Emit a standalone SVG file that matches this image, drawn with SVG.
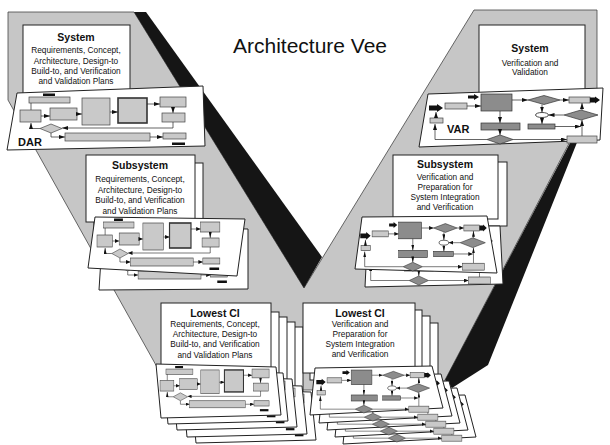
<svg xmlns="http://www.w3.org/2000/svg" xmlns:xlink="http://www.w3.org/1999/xlink" width="610" height="445" viewBox="0 0 610 445">
<style>
text{font-family:"Liberation Sans",Arial,sans-serif;fill:#111;text-anchor:middle}
.t{font-size:10.5px;font-weight:bold}
.b{font-size:8.3px}
.lbl{font-size:11px;font-weight:bold;text-anchor:start}
.box{fill:#fff;stroke:#222;stroke-width:1}
.card{fill:#fff;stroke:#222;stroke-width:1}
.lg{fill:#c9c9c9;stroke:#444;stroke-width:0.7}
.lg2{fill:#c9c9c9;stroke:#333;stroke-width:1.6}
.dk{fill:#8c8c8c;stroke:#333;stroke-width:0.7}
.wh{fill:#fff;stroke:#222;stroke-width:0.8}
.blk{fill:#111}
.ln{fill:none;stroke:#222;stroke-width:0.7}
.ar{fill:none;stroke:#222;stroke-width:0.7;marker-end:url(#ah)}
</style>
<defs>
<marker id="ah" viewBox="0 0 6 4" markerWidth="6" markerHeight="4" refX="6" refY="2" orient="auto" markerUnits="userSpaceOnUse">
<path d="M0 0L6 2L0 4Z" fill="#111"/>
</marker>
<g id="dar">
<rect x="43" y="93.5" width="12" height="2.5" class="blk"/>
<rect x="29" y="97" width="41" height="6" class="lg"/>
<path d="M31 103V110" class="ln"/>
<rect x="20" y="110" width="21" height="12" class="lg"/>
<path d="M41 116H50" class="ar"/>
<rect x="50" y="108" width="27" height="12" class="lg"/>
<path d="M77 114H82" class="ar"/>
<rect x="82" y="98" width="28" height="27" class="lg"/>
<path d="M110 112H118" class="ar"/>
<rect x="118" y="98" width="29" height="25" class="lg2"/>
<path d="M147 104H160" class="ar"/>
<rect x="160" y="97" width="26" height="10" class="lg"/>
<path d="M173 107V113" class="ar"/>
<rect x="162" y="113" width="23" height="9" class="lg"/>
<path d="M173 122V128H62" class="ar"/>
<path d="M40 128.5L51 124L62 128.5L51 133Z" class="lg"/>
<path d="M40 128.5H31V123" class="ar"/>
<path d="M51 133V137H65" class="ar"/>
<rect x="65" y="133" width="85" height="8" class="lg"/>
<path d="M150 137H163" class="ar"/>
<rect x="163" y="133" width="23" height="6" class="lg"/>
<rect x="172" y="142.5" width="13" height="2.5" class="blk"/>
</g>
<g id="var">
<path d="M429 105.5h8v-1.5l6 4-6 4v-1.5h-8z" class="blk"/>
<rect x="445" y="103" width="22" height="6" class="lg"/>
<path d="M467 106H481" class="ar"/>
<path d="M468 95.5h6v-1.5l5 3-5 3v-1.5h-6z" class="blk"/>
<rect x="481" y="94" width="31" height="17" class="dk"/>
<path d="M512 100H528" class="ar"/>
<path d="M528 100L544 95.5L560 100L544 104.5Z" class="dk"/>
<path d="M560 100H569" class="ar"/>
<rect x="569" y="97" width="21" height="6" class="lg"/>
<path d="M590 97.5h5v-1l5 3.5-5 3.5v-1h-5z" class="blk"/>
<path d="M542 104.5V112.5" class="ar"/>
<ellipse cx="542" cy="115" rx="6.5" ry="2.5" class="wh"/>
<path d="M564 115H548.5" class="ar"/>
<path d="M564 115L581 110L598 115L581 120Z" class="dk"/>
<path d="M582 110V103" class="ar"/>
<path d="M500 111V123" class="ar"/>
<rect x="481" y="123" width="39" height="7" class="dk"/>
<path d="M500 130V135" class="ar"/>
<path d="M542 117.5V124" class="ar"/>
<rect x="528" y="124" width="27" height="5" class="dk"/>
<path d="M555 126.5H581" class="ar"/>
<path d="M582 136V120" class="ar"/>
<path d="M487 139.5L500 135L513 139.5L500 144Z" class="dk"/>
<path d="M513 139.5H567" class="ar"/>
<rect x="567" y="136" width="30" height="7" class="lg"/>
<path d="M487 139.5H435V124" class="ar"/>
<rect x="430" y="118" width="13" height="5" class="lg"/>
<path d="M436 118V112" class="ar"/>
</g>
</defs>
<rect width="610" height="445" fill="#fff"/>
<g id="vee">
<path d="M8 12H134L304 288L474 10H597V90L445 380L440 390H175L157 367L8 100Z" fill="#c6c6c6" stroke="#444" stroke-width="0.8"/>
<path d="M134 12H146L322 257L304 288Z" fill="#151515"/>
<path d="M598 90L488 365L452 388L445 380Z" fill="#151515"/>
</g>
<text x="310" y="53" style="font-size:21px">Architecture Vee</text>
<g id="sys-left">
<rect x="23" y="25" width="107" height="70" class="box"/>
<text x="76" y="41" class="t">System</text>
<text x="76" y="53.3" class="b">Requirements, Concept,</text>
<text x="76" y="63.7" class="b">Architecture, Design-to</text>
<text x="76" y="74" class="b">Build-to, and Verification</text>
<text x="76" y="83.5" class="b">and Validation Plans</text>
<path d="M17 93L203 86L205 146L7 150Z" class="card"/>
<use xlink:href="#dar"/>
<text x="18" y="146" class="lbl">DAR</text>
</g>
<g id="sub-left">
<rect x="94" y="163" width="109" height="67" class="box"/>
<rect x="86" y="155" width="109" height="67" class="box"/>
<text x="140" y="169.3" class="t">Subsystem</text>
<text x="140" y="182" class="b">Requirements, Concept,</text>
<text x="140" y="192.5" class="b">Architecture, Design-to</text>
<text x="140" y="203" class="b">Build-to, and Verification</text>
<text x="140" y="213.5" class="b">and Validation Plans</text>
<path d="M103 227L248 229L248 289L99 290Z" class="card"/>
<use xlink:href="#dar" transform="matrix(0.74,0,0,1,90,138)"/>
<path d="M95 217L245 219L237 276L88 268Z" class="card"/>
<use xlink:href="#dar" transform="matrix(0.74,0,0,1,82.2,125)"/>
</g>
<g id="sys-right">
<rect x="479" y="25" width="106" height="70" class="box"/>
<text x="530" y="52.3" class="t">System</text>
<text x="530" y="65.7" class="b">Verification and</text>
<text x="530" y="74.5" class="b">Validation</text>
<path d="M428 94L603 88L600 140L419 147Z" class="card"/>
<use xlink:href="#var"/>
<text x="447" y="133" class="lbl">VAR</text>
</g>
<g id="sub-right">
<rect x="401" y="162" width="106" height="64" class="box"/>
<rect x="393" y="155" width="105" height="64" class="box"/>
<text x="445" y="168" class="t">Subsystem</text>
<text x="445" y="180" class="b">Verification and</text>
<text x="445" y="190" class="b">Preparation for</text>
<text x="445" y="200" class="b">System Integration</text>
<text x="445" y="210" class="b">and Verification</text>
<path d="M368 226L500 226L503 284L365 287Z" class="card"/>
<use xlink:href="#var" transform="matrix(0.74,0,0,1,48.8,141)"/>
<path d="M362 217L487 216L497 273L355 269Z" class="card"/>
<use xlink:href="#var" transform="matrix(0.74,0,0,0.98,42.8,130)"/>
</g>
<g id="low-left">
<rect x="193" y="327" width="110" height="70" class="box"/>
<rect x="185" y="322" width="110" height="70" class="box"/>
<rect x="177" y="317" width="110" height="70" class="box"/>
<rect x="169" y="312" width="110" height="70" class="box"/>
<rect x="161" y="303" width="110" height="70" class="box"/>
<text x="215" y="317.3" class="t">Lowest CI</text>
<text x="215" y="326.5" class="b">Requirements, Concept,</text>
<text x="215" y="337" class="b">Architecture, Design-to</text>
<text x="215" y="347.3" class="b">Build-to, and Verification</text>
<text x="215" y="358" class="b">and Validation Plans</text>
<path d="M191 389L311 392L316 440L196 443Z" class="card"/>
<use xlink:href="#dar" transform="matrix(0.657,0,0,0.88,181.9,308.7)"/>
<path d="M182 383L302 386L307 434L187 437Z" class="card"/>
<use xlink:href="#dar" transform="matrix(0.657,0,0,0.88,172.9,302.7)"/>
<path d="M172 376L292 379L297 427L177 430Z" class="card"/>
<use xlink:href="#dar" transform="matrix(0.657,0,0,0.88,162.9,295.7)"/>
<path d="M163 370L283 373L288 421L168 424Z" class="card"/>
<use xlink:href="#dar" transform="matrix(0.657,0,0,0.88,153.9,289.7)"/>
<path d="M156 364L276 367L281 415L161 418Z" class="card"/>
<use xlink:href="#dar" transform="matrix(0.657,0,0,0.88,146.9,283.7)"/>
</g>
<g id="low-right">
<rect x="326" y="323" width="112" height="70" class="box"/>
<rect x="318" y="316" width="112" height="70" class="box"/>
<rect x="310" y="310" width="112" height="70" class="box"/>
<rect x="303" y="303" width="112" height="70" class="box"/>
<text x="360" y="317.3" class="t">Lowest CI</text>
<text x="360" y="326.7" class="b">Verification and</text>
<text x="360" y="336.7" class="b">Preparation for</text>
<text x="360" y="346.7" class="b">System Integration</text>
<text x="360" y="357.3" class="b">and Verification</text>
<path d="M348 397L465 395L476 437L343 444Z" class="card"/>
<use xlink:href="#var" transform="matrix(0.67,0,0,0.86,61.9,318.2)"/>
<path d="M340 390L457 388L468 430L335 437Z" class="card"/>
<use xlink:href="#var" transform="matrix(0.67,0,0,0.86,53.9,311.2)"/>
<path d="M332 383L449 381L460 423L327 430Z" class="card"/>
<use xlink:href="#var" transform="matrix(0.67,0,0,0.86,45.9,304.2)"/>
<path d="M324 376L441 374L452 416L319 423Z" class="card"/>
<use xlink:href="#var" transform="matrix(0.67,0,0,0.86,37.9,297.2)"/>
<path d="M315 368L432 366L443 408L310 415Z" class="card"/>
<use xlink:href="#var" transform="matrix(0.67,0,0,0.86,28.9,289.2)"/>
</g>
</svg>
